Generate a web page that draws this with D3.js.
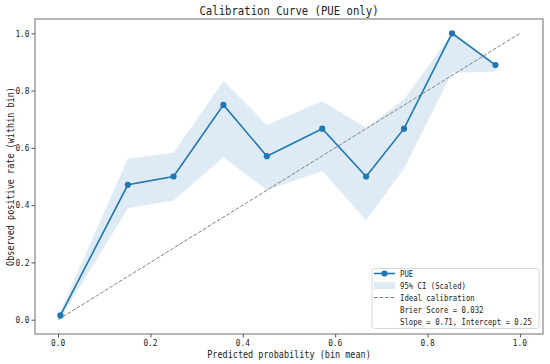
<!DOCTYPE html>
<html>
<head>
<meta charset="utf-8">
<script src="https://cdn.jsdelivr.net/npm/d3@7/dist/d3.min.js"></script>
<style>
  html, body { margin: 0; padding: 0; background: #fff; }
  svg { display: block; }
  text { font-family: "DejaVu Sans Mono", "Liberation Mono", monospace; fill: #222; }
</style>
</head>
<body>
<svg id="chart" width="550" height="364"></svg>
<script>
// ---- data ----
const binMean   = [0.005, 0.151, 0.250, 0.358, 0.452, 0.572, 0.667, 0.749, 0.853, 0.947];
const observed  = [0.015, 0.471, 0.500, 0.750, 0.571, 0.667, 0.500, 0.667, 1.000, 0.889];
const ciLower   = [0.003, 0.389, 0.416, 0.567, 0.452, 0.519, 0.347, 0.528, 0.862, 0.866];
const ciUpper   = [0.030, 0.562, 0.583, 0.833, 0.680, 0.763, 0.670, 0.769, 1.000, 0.896];
const idealLine = [0, 1];
const xTicks = [0.0, 0.2, 0.4, 0.6, 0.8, 1.0];
const yTicks = [0.0, 0.2, 0.4, 0.6, 0.8, 1.0];
const titleText = "Calibration Curve (PUE only)";
const xLabelText = "Predicted probability (bin mean)";
const yLabelText = "Observed positive rate (within bin)";
const legendLabels = ["PUE", "95% CI (Scaled)", "Ideal calibration", "Brier Score = 0.032", "Slope = 0.71, Intercept = 0.25"];

// ---- layout ----
const svg = d3.select("#chart");
const L = 35, R = 543, T = 19, B = 334;
const x = d3.scaleLinear().domain([-0.05, 1.05]).range([L, R]);
const y = d3.scaleLinear().domain([-0.05, 1.05]).range([B, T]);
const blue = "#1f77b4";

// helper: monospace text horizontally scaled to SimHei-like half-width metrics
function txt(g, s, size, perChar, px, py, anchor, rot) {
  const sx = perChar / (0.602 * size);
  const t = g.append("text").text(s).attr("font-size", size)
    .attr("text-anchor", anchor || "start")
    .attr("transform", `translate(${px},${py})${rot ? ` rotate(${rot})` : ""} scale(${sx},1)`);
  return t;
}

// CI band
const pts = binMean.map((d, i) => ({x: d, y: observed[i], lo: ciLower[i], hi: ciUpper[i]}));
svg.append("path")
  .datum(pts)
  .attr("d", d3.area().x(d => x(d.x)).y0(d => y(d.lo)).y1(d => y(d.hi)))
  .attr("fill", blue).attr("fill-opacity", 0.15);

// ideal line
svg.append("line")
  .attr("x1", x(idealLine[0])).attr("y1", y(idealLine[0]))
  .attr("x2", x(idealLine[1])).attr("y2", y(idealLine[1]))
  .attr("stroke", "#808080").attr("stroke-width", 1)
  .attr("stroke-dasharray", "3.8,1.7");

// calibration line
svg.append("path")
  .datum(pts)
  .attr("d", d3.line().x(d => x(d.x)).y(d => y(d.y)))
  .attr("fill", "none").attr("stroke", blue).attr("stroke-width", 1.6);
svg.selectAll("circle.pt").data(pts).enter().append("circle")
  .attr("class", "pt")
  .attr("cx", d => x(d.x)).attr("cy", d => y(d.y)).attr("r", 3.1)
  .attr("fill", blue);

// frame
svg.append("rect").attr("x", L).attr("y", T).attr("width", R - L).attr("height", B - T)
  .attr("fill", "none").attr("stroke", "#6e6e6e").attr("stroke-width", 1);

// x axis
const xAxisG = svg.append("g").attr("transform", `translate(0,${B})`)
  .call(d3.axisBottom(x).tickValues(xTicks).tickSize(3.5).tickFormat(() => ""));
xAxisG.select(".domain").remove();
xAxisG.selectAll("line").attr("stroke", "#555");
xTicks.forEach(v => {
  txt(svg, d3.format(".1f")(v), 9.5, 4.7, x(v), 346, "middle");
});
txt(svg, xLabelText, 10, 5.12, (L + R) / 2, 357.5, "middle");

// y axis
const yAxisG = svg.append("g").attr("transform", `translate(${L},0)`)
  .call(d3.axisLeft(y).tickValues(yTicks).tickSize(3.5).tickFormat(() => ""));
yAxisG.select(".domain").remove();
yAxisG.selectAll("line").attr("stroke", "#555");
yTicks.forEach(v => {
  txt(svg, d3.format(".1f")(v), 9.5, 4.7, 29.5, y(v) + 3.3, "end");
});
txt(svg, yLabelText, 10, 5.12, 13.5, (T + B) / 2, "middle", -90);

// title
txt(svg, titleText, 12.5, 6.4, (L + R) / 2, 14.5, "middle");

// legend
const lg = svg.append("g");
lg.append("rect").attr("x", 372).attr("y", 268.5).attr("width", 167).attr("height", 60)
  .attr("rx", 2.5).attr("fill", "#fff").attr("fill-opacity", 0.85)
  .attr("stroke", "#d6d6d6").attr("stroke-width", 1);
const rowY = [273.5, 285.5, 297.5, 309.5, 321.5];
const hx0 = 374, hx1 = 395, tx = 400;
// PUE handle
lg.append("line").attr("x1", hx0).attr("x2", hx1).attr("y1", rowY[0]).attr("y2", rowY[0])
  .attr("stroke", blue).attr("stroke-width", 1.6);
lg.append("circle").attr("cx", (hx0 + hx1) / 2).attr("cy", rowY[0]).attr("r", 3.1).attr("fill", blue);
// CI handle
lg.append("rect").attr("x", hx0).attr("y", rowY[1] - 3.5).attr("width", hx1 - hx0).attr("height", 7)
  .attr("fill", blue).attr("fill-opacity", 0.15);
// ideal handle
lg.append("line").attr("x1", hx0).attr("x2", hx1).attr("y1", rowY[2]).attr("y2", rowY[2])
  .attr("stroke", "#808080").attr("stroke-width", 1).attr("stroke-dasharray", "3.8,1.7");
legendLabels.forEach((s, i) => {
  txt(lg, s, 9, 4.4, tx, rowY[i] + 3.2, "start");
});
</script>
</body>
</html>
